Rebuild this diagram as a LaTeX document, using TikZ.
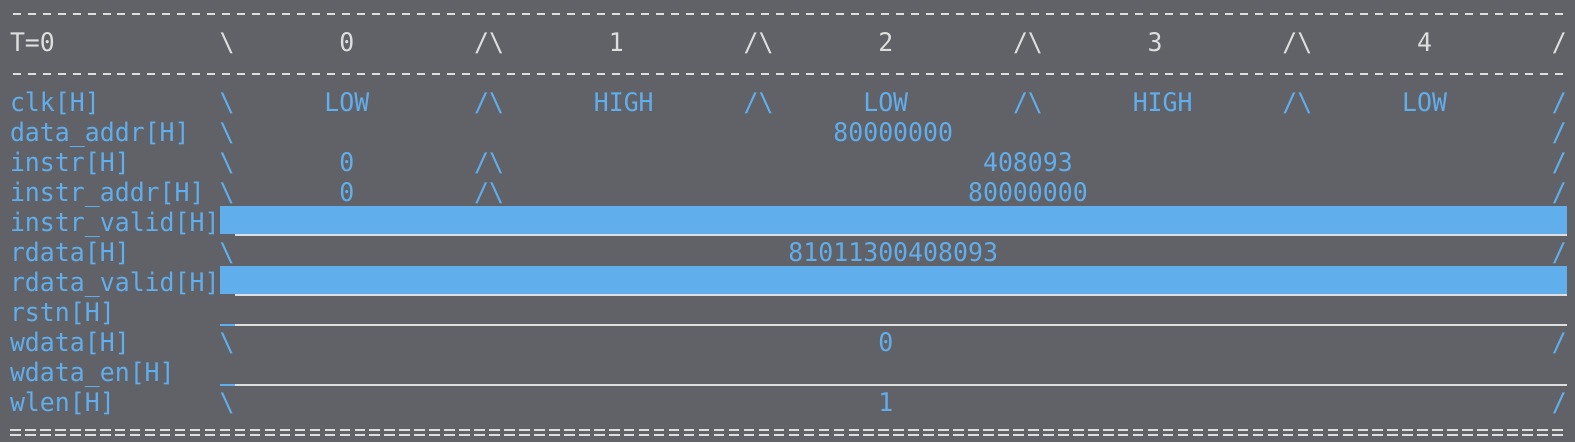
\documentclass[tikz,border=0pt]{standalone}
\usepackage{fontspec}
\newfontfamily\termfont{DejaVu Sans Mono}[FakeStretch=0.9713]
\definecolor{bg}{RGB}{96,98,103}
\definecolor{fgw}{RGB}{222,222,222}
\definecolor{fgb}{RGB}{97,174,237}
\newcommand\colw{14.97}
% column, row, text, colour, name
\newcommand\tx[5]{\node[termtext,text=#4] (#5) at ({10+#1*\colw},{21+30*#2}) {#3};}
\begin{document}
\begin{tikzpicture}[x=1pt,y=-1pt,
  termtext/.style={anchor=base west,inner sep=0pt,outer sep=0pt,font=\termfont\fontsize{25.6}{30}\selectfont},
  dashrow/.style={fgw,line width=1.8pt,dash pattern=on 8pt off 6.97pt},
  eqrow/.style={fgw,line width=1.6pt,dash pattern=on 10.5pt off 4.47pt}]
\useasboundingbox (0,0) rectangle (1575,442);
\fill[bg] (0,0) rectangle (1575,442);

% separator rows
\coordinate (d0a) at (12.7,14.2);  \coordinate (d0b) at (1567,14.2);
\coordinate (d2a) at (12.7,73.9);  \coordinate (d2b) at (1567,73.9);
\coordinate (e1a) at (10.2,430.2); \coordinate (e1b) at (1567,430.2);
\coordinate (e2a) at (10.2,435.2); \coordinate (e2b) at (1567,435.2);
\draw[dashrow] (d0a) -- (d0b);
\draw[dashrow] (d2a) -- (d2b);
\draw[eqrow] (e1a) -- (e1b);
\draw[eqrow] (e2a) -- (e2b);

% high bars (instr_valid, rdata_valid)
\fill[fgb] ({10+14*\colw},206) rectangle ({10+104*\colw},234.3);
\fill[fgw] ({10+15*\colw},234.3) rectangle ({10+104*\colw},235.8);
\fill[fgb] ({10+14*\colw},266) rectangle ({10+104*\colw},294.3);
\fill[fgw] ({10+15*\colw},294.3) rectangle ({10+104*\colw},295.8);
% low lines (rstn, wdata_en)
\fill[fgb] ({10+14*\colw},324.2) rectangle ({10+15*\colw},325.9);
\fill[fgw] ({10+15*\colw},324.3) rectangle ({10+104*\colw},325.8);
\fill[fgb] ({10+14*\colw},384.2) rectangle ({10+15*\colw},385.9);
\fill[fgw] ({10+15*\colw},384.3) rectangle ({10+104*\colw},385.8);

% header row
\tx{0}{1}{T=0}{fgw}{h0}
\tx{14}{1}{\textbackslash}{fgw}{h1}
\tx{22}{1}{0}{fgw}{h2}
\tx{31}{1}{/\textbackslash}{fgw}{h3}
\tx{40}{1}{1}{fgw}{h4}
\tx{49}{1}{/\textbackslash}{fgw}{h5}
\tx{58}{1}{2}{fgw}{h6}
\tx{67}{1}{/\textbackslash}{fgw}{h7}
\tx{76}{1}{3}{fgw}{h8}
\tx{85}{1}{/\textbackslash}{fgw}{h9}
\tx{94}{1}{4}{fgw}{h10}
\tx{103}{1}{/}{fgw}{h11}

% labels
\tx{0}{3}{clk[H]}{fgb}{l3}
\tx{0}{4}{data\_addr[H]}{fgb}{l4}
\tx{0}{5}{instr[H]}{fgb}{l5}
\tx{0}{6}{instr\_addr[H]}{fgb}{l6}
\tx{0}{7}{instr\_valid[H]}{fgb}{l7}
\tx{0}{8}{rdata[H]}{fgb}{l8}
\tx{0}{9}{rdata\_valid[H]}{fgb}{l9}
\tx{0}{10}{rstn[H]}{fgb}{l10}
\tx{0}{11}{wdata[H]}{fgb}{l11}
\tx{0}{12}{wdata\_en[H]}{fgb}{l12}
\tx{0}{13}{wlen[H]}{fgb}{l13}

% clk
\tx{14}{3}{\textbackslash}{fgb}{c1}
\tx{21}{3}{LOW}{fgb}{c2}
\tx{31}{3}{/\textbackslash}{fgb}{c3}
\tx{39}{3}{HIGH}{fgb}{c4}
\tx{49}{3}{/\textbackslash}{fgb}{c5}
\tx{57}{3}{LOW}{fgb}{c6}
\tx{67}{3}{/\textbackslash}{fgb}{c7}
\tx{75}{3}{HIGH}{fgb}{c8}
\tx{85}{3}{/\textbackslash}{fgb}{c9}
\tx{93}{3}{LOW}{fgb}{c10}
\tx{103}{3}{/}{fgb}{c11}

% data_addr
\tx{14}{4}{\textbackslash}{fgb}{da1}
\tx{55}{4}{80000000}{fgb}{da2}
\tx{103}{4}{/}{fgb}{da3}

% instr
\tx{14}{5}{\textbackslash}{fgb}{in1}
\tx{22}{5}{0}{fgb}{in2}
\tx{31}{5}{/\textbackslash}{fgb}{in3}
\tx{65}{5}{408093}{fgb}{in4}
\tx{103}{5}{/}{fgb}{in5}

% instr_addr
\tx{14}{6}{\textbackslash}{fgb}{ia1}
\tx{22}{6}{0}{fgb}{ia2}
\tx{31}{6}{/\textbackslash}{fgb}{ia3}
\tx{64}{6}{80000000}{fgb}{ia4}
\tx{103}{6}{/}{fgb}{ia5}

% rdata
\tx{14}{8}{\textbackslash}{fgb}{rd1}
\tx{52}{8}{81011300408093}{fgb}{rd2}
\tx{103}{8}{/}{fgb}{rd3}

% wdata
\tx{14}{11}{\textbackslash}{fgb}{wd1}
\tx{58}{11}{0}{fgb}{wd2}
\tx{103}{11}{/}{fgb}{wd3}

% wlen
\tx{14}{13}{\textbackslash}{fgb}{wl1}
\tx{58}{13}{1}{fgb}{wl2}
\tx{103}{13}{/}{fgb}{wl3}
\end{tikzpicture}
\end{document}
